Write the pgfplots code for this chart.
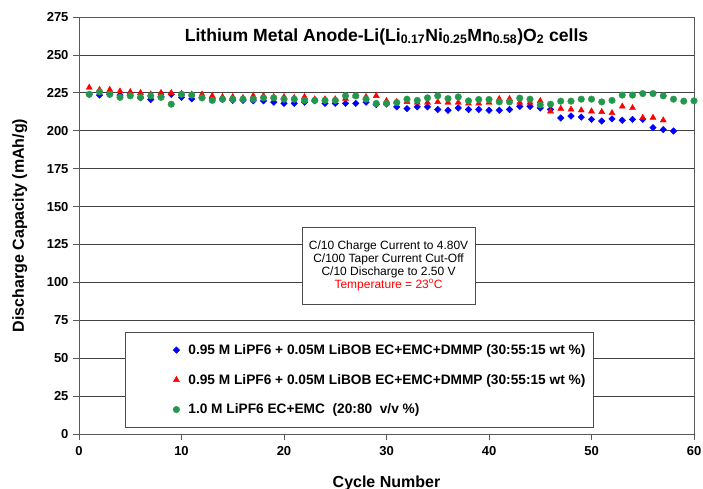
\documentclass[border=0pt]{standalone}
\usepackage{pgfplots}
\pgfplotsset{compat=1.18}
\usepackage{fontspec}
\setmainfont{Liberation Sans}

\definecolor{libob}{HTML}{0000FF}
\definecolor{libobred}{HTML}{FF0000}
\definecolor{basegreen}{HTML}{1E9A50}

\begin{document}
\begin{tikzpicture}
  \begin{axis}[
    name=ax, scale only axis, width=615pt, height=417pt,
    xmin=0, xmax=60, ymin=0, ymax=275,
    xtick={0,10,...,60}, ytick={0,25,...,275},
    tick align=outside, major tick length=6pt,
    xtick pos=bottom, ytick pos=left,
    ymajorgrids, grid style={black!75, line width=0.7pt},
    axis line style={black!65, line width=0.8pt},
    tick style={black!65, line width=0.8pt},
    /pgf/number format/assume math mode=true,
    ticklabel style={font=\fontsize{13}{15}\selectfont\bfseries},
    yticklabel style={xshift=-1pt},
    xticklabel style={yshift=-3pt},
    xlabel={Cycle Number}, ylabel={Discharge Capacity (mAh/g)},
    label style={font=\fontsize{16}{18}\selectfont\bfseries, inner sep=0pt},
    xlabel style={at={(axis description cs:0.5,-0.099)}, anchor=north},
    ylabel style={at={(axis description cs:-0.109,0.5)}, anchor=north, rotate=0},
    clip=false,
    legend cell align=left,
    legend style={at={(rel axis cs:0.0748,0.2446)}, anchor=north west,
      draw=black!70, line width=0.8pt, fill=white, inner xsep=6pt, inner ysep=10pt,
      row sep=14.3pt, font=\fontsize{13.7}{16}\selectfont\bfseries},
    legend image code/.code={\path[draw=none, fill=none] (0pt,0pt) -- (55pt,0pt);
      \draw[#1, line width=0.4pt] plot coordinates {(45pt,0pt)};},
  ]
  \addplot[only marks, mark=square*, mark size=2.3pt, mark options={rotate=45, draw=libob, fill=libob}]
    coordinates {
    (1,224) (2,223.5) (3,224) (4,223.5) (5,223.5) (6,221.7) (7,220.6) (8,222.5) (9,224) (10,222)
    (11,221) (12,221.7) (13,221) (14,220.6) (15,220) (16,220) (17,219.7) (18,219.7) (19,218.8) (20,218)
    (21,218) (22,218.8) (23,219.7) (24,218) (25,218) (26,218) (27,218) (28,218.8) (29,217.3) (30,217.5)
    (31,215.7) (32,214.6) (33,215.7) (34,215.7) (35,214) (36,213.5) (37,215) (38,214) (39,214) (40,213.5)
    (41,213.5) (42,214) (43,216) (44,216) (45,215) (46,214) (47,208.4) (48,209.7) (49,209) (50,207.5)
    (51,206.4) (52,207.8) (53,206.9) (54,207.5) (55,207.5) (56,202) (57,200.7) (58,199.8)
    };
  \addlegendentry{0.95 M LiPF6 + 0.05M LiBOB EC+EMC+DMMP (30:55:15 wt \%)}
  \addplot[only marks, mark=triangle*, mark size=3.5pt, mark options={draw=libobred, fill=libobred}]
    coordinates {
    (1,228.5) (2,227) (3,227) (4,226) (5,225.6) (6,225) (7,224) (8,225) (9,225) (10,224.5)
    (11,224) (12,224) (13,223) (14,222.3) (15,222.3) (16,221.7) (17,223) (18,223) (19,222.3) (20,222.3)
    (21,221.7) (22,222.3) (23,220.8) (24,220.8) (25,220.8) (26,221.2) (27,223) (28,222.3) (29,223) (30,219.7)
    (31,219) (32,219) (33,218.6) (34,218.6) (35,219) (36,218.6) (37,218.6) (38,218) (39,218) (40,218.6)
    (41,221) (42,221) (43,218.6) (44,218.6) (45,219.7) (46,212.8) (47,214.6) (48,214) (49,213.5) (50,212.8)
    (51,212.4) (52,211.7) (53,216) (54,215) (55,208.6) (56,208.6) (57,206.9)
    };
  \addlegendentry{0.95 M LiPF6 + 0.05M LiBOB EC+EMC+DMMP (30:55:15 wt \%)}
  \addplot[only marks, mark=*, mark size=3.3pt, mark options={draw=basegreen!80!brown, fill=basegreen}]
    coordinates {
    (1,224) (2,225.6) (3,224) (4,222) (5,223) (6,222) (7,223) (8,222) (9,217.5) (10,224)
    (11,223.5) (12,221.7) (13,220) (14,220.8) (15,220.8) (16,220.8) (17,220.8) (18,221.7) (19,221.7) (20,220.8)
    (21,220.8) (22,220) (23,220) (24,220) (25,220) (26,223) (27,223) (28,220.8) (29,218) (30,218)
    (31,218.6) (32,220.8) (33,220) (34,221.7) (35,223) (36,221.2) (37,222.3) (38,219.7) (39,220.6) (40,220.6)
    (41,219) (42,219) (43,221.5) (44,220.8) (45,217) (46,217.5) (47,219.5) (48,219.5) (49,220.8) (50,220.8)
    (51,219) (52,220) (53,223.5) (54,223.5) (55,224.5) (56,224.5) (57,223) (58,220.8) (59,219.5) (60,219.7)
    };
  \addlegendentry{1.0 M LiPF6 EC+EMC\ \ (20:80\ \ v/v \%)}
  \node[font=\fontsize{17.6}{19}\selectfont\bfseries] at (axis cs:30,262)
    {Lithium Metal Anode-Li(Li\textsubscript{0.17}Ni\textsubscript{0.25}Mn\textsubscript{0.58})O\textsubscript{2} cells};
  \node[draw=black!70, line width=0.8pt, fill=white, minimum width=173pt, minimum height=77pt,
    align=center, font=\fontsize{12}{13}\selectfont] at (axis cs:30.2,111)
    {C/10 Charge Current to 4.80V\\C/100 Taper Current Cut-Off\\C/10 Discharge to 2.50 V\\
     \textcolor{libobred}{Temperature = 23\textsuperscript{o}C}};
  \end{axis}
  \pgfresetboundingbox
  \path[use as bounding box] ([shift={(-79pt,-55pt)}]ax.south west) rectangle ([shift={(9pt,17pt)}]ax.north east);
\end{tikzpicture}
\end{document}
